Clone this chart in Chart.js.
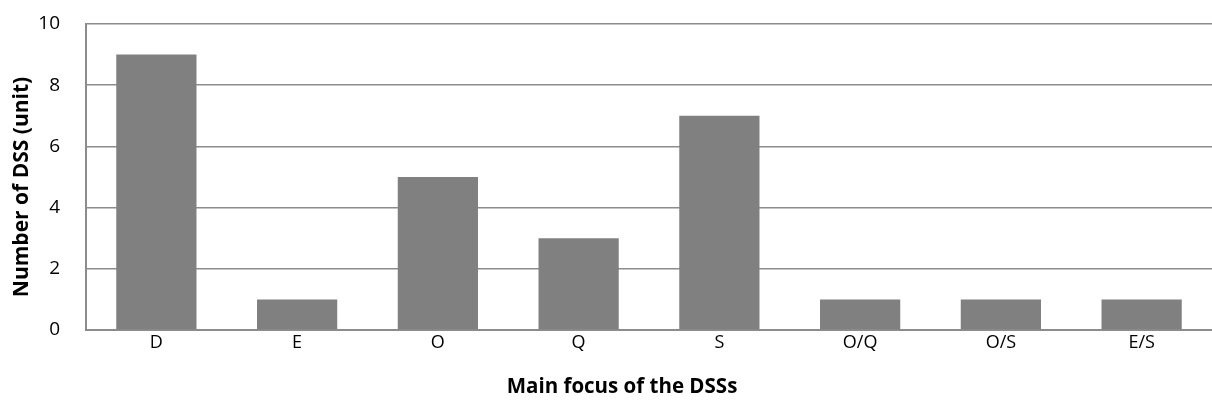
<!DOCTYPE html>
<html lang="en">
<head>
    <meta charset="UTF-8">
    <title>Main focus of the DSSs</title>
    <script src="https://cdn.jsdelivr.net/npm/chart.js"></script>
    <style>
        html, body { margin: 0; padding: 0; background: #fff; }
        #wrap { width: 1212px; height: 407px; }
    </style>
</head>
<body>
<div id="wrap"><canvas id="dssChart" width="1212" height="407"></canvas></div>
<script>
    // data
    const categories = ['D', 'E', 'O', 'Q', 'S', 'O/Q', 'O/S', 'E/S'];
    const dssCounts = [9, 1, 5, 3, 7, 1, 1, 1];
    const yTicks = [0, 2, 4, 6, 8, 10];
    const xTitle = 'Main focus of the DSSs';
    const yTitle = 'Number of DSS (unit)';

    const font = "'Open Sans', 'Noto Sans', sans-serif";

    // axis titles are centred on the whole figure like in Excel, not on the plot
    const axisTitles = {
        id: 'axisTitles',
        afterDraw(chart) {
            const c = chart.ctx;
            c.save();
            c.fillStyle = '#000';
            c.textAlign = 'center';
            c.textBaseline = 'middle';
            c.font = 'bold 20.5px ' + font;
            c.fillText(xTitle, 622, 387);
            c.translate(22, 187);
            c.rotate(-Math.PI / 2);
            c.font = 'bold 21px ' + font;
            c.fillText(yTitle, 0, 0);
            c.restore();
        }
    };

    const ctx = document.getElementById('dssChart').getContext('2d');
    new Chart(ctx, {
        type: 'bar',
        data: {
            labels: categories,
            datasets: [{
                data: dssCounts,
                backgroundColor: '#808080',
                borderWidth: 0,
                categoryPercentage: 1,
                barPercentage: 0.57
            }]
        },
        plugins: [axisTitles],
        options: {
            responsive: false,
            animation: false,
            layout: { padding: { top: 24, right: 0, bottom: 0, left: 0 } },
            plugins: { legend: { display: false }, tooltip: { enabled: false } },
            scales: {
                x: {
                    grid: { display: false, drawTicks: false },
                    border: { display: true, color: '#8c8c8c', width: 2 },
                    ticks: { color: '#000', font: { family: font, size: 18 }, padding: 2 },
                    afterFit: (s) => {
                        s.height = 77;
                        s.paddingLeft = 0;
                        s.paddingRight = 0;
                    }
                },
                y: {
                    min: 0,
                    max: 10,
                    afterBuildTicks: (s) => { s.ticks = yTicks.map(v => ({ value: v })); },
                    grid: { color: '#8c8c8c', lineWidth: 1.5, drawTicks: false },
                    border: { display: true, color: '#8c8c8c', width: 2 },
                    ticks: { color: '#000', font: { family: font, size: 19 }, padding: 26 },
                    afterFit: (s) => {
                        s.width = 86;
                        s.paddingTop = 0;
                        s.paddingBottom = 0;
                    }
                }
            }
        }
    });
</script>
</body>
</html>
